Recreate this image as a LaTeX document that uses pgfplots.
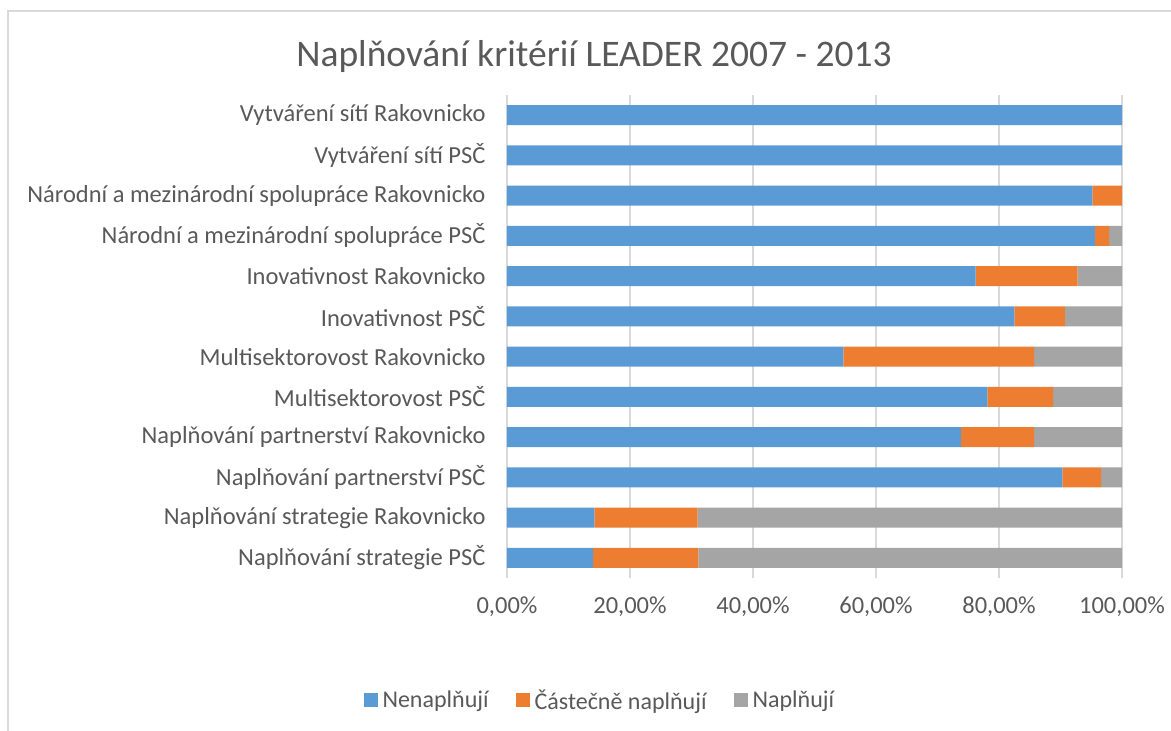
\documentclass[border=0pt]{standalone}
\usepackage{pgfplots}
\pgfplotsset{compat=1.18}
\usepackage{fontspec}
\setmainfont{Carlito}
\definecolor{cblue}{HTML}{5B9BD5}
\definecolor{corange}{HTML}{ED7D31}
\definecolor{cgray}{HTML}{A5A5A5}
\definecolor{txt}{HTML}{595959}
\definecolor{gridc}{HTML}{D9D9D9}
\begin{document}
\begin{tikzpicture}[x=1pt,y=1pt]
\useasboundingbox (0,0) rectangle (1171,731);
\draw[gridc, line width=1.5pt] (8,0) -- (8,720) -- (1171,720);
\begin{axis}[
  at={(507pt,153pt)}, anchor=south west,
  scale only axis, width=615pt, height=483pt,
  xbar stacked, bar width=20pt,
  xmin=0, xmax=100, ymin=-0.5, ymax=11.5,
  xtick={0,20,40,60,80,100},
  xticklabels={{0,00\%},{20,00\%},{40,00\%},{60,00\%},{80,00\%},{100,00\%}},
  ytick={0,...,11},
  yticklabels={{Naplňování strategie PSČ},{Naplňování strategie Rakovnicko},{Naplňování partnerství PSČ},{Naplňování partnerství Rakovnicko},{Multisektorovost PSČ},{Multisektorovost Rakovnicko},{Inovativnost PSČ},{Inovativnost Rakovnicko},{Národní a mezinárodní spolupráce PSČ},{Národní a mezinárodní spolupráce Rakovnicko},{Vytváření sítí PSČ},{Vytváření sítí Rakovnicko}},
  axis line style={draw=none},
  major tick length=0pt,
  xmajorgrids, major grid style={draw=gridc, line width=1.6pt},
  tick label style={font=\fontsize{24.5}{29}\selectfont, text=txt},
  xticklabel style={yshift=-15pt},
  yticklabel style={xshift=-18pt},
  legend style={at={(0.151,-0.2526)}, anchor=center, draw=none, legend columns=3,
    font=\fontsize{24}{29}\selectfont, text=txt,
    /tikz/every even column/.append style={column sep=25pt}},
  legend image code/.code={\fill[#1] (0pt,-7pt) rectangle (14pt,7pt); \path (17pt,0pt);},
]
\addplot[fill=cblue, draw=none] coordinates {(14.0,0) (14.2,1) (90.3,2) (73.8,3) (78.1,4) (54.7,5) (82.5,6) (76.2,7) (95.6,8) (95.2,9) (100,10) (100,11)};
\addplot[fill=corange, draw=none] coordinates {(17.1,0) (16.8,1) (6.3,2) (11.9,3) (10.7,4) (31.0,5) (8.2,6) (16.6,7) (2.3,8) (4.8,9) (0,10) (0,11)};
\addplot[fill=cgray, draw=none] coordinates {(68.9,0) (69.0,1) (3.4,2) (14.3,3) (11.2,4) (14.3,5) (9.3,6) (7.2,7) (2.1,8) (0,9) (0,10) (0,11)};
\legend{Nenaplňují,Částečně naplňují,Naplňují}
\end{axis}
\node[text=txt, font=\fontsize{37.5}{45}\selectfont] at (594,674) {Naplňování kritérií LEADER 2007 - 2013};
\end{tikzpicture}
\end{document}
